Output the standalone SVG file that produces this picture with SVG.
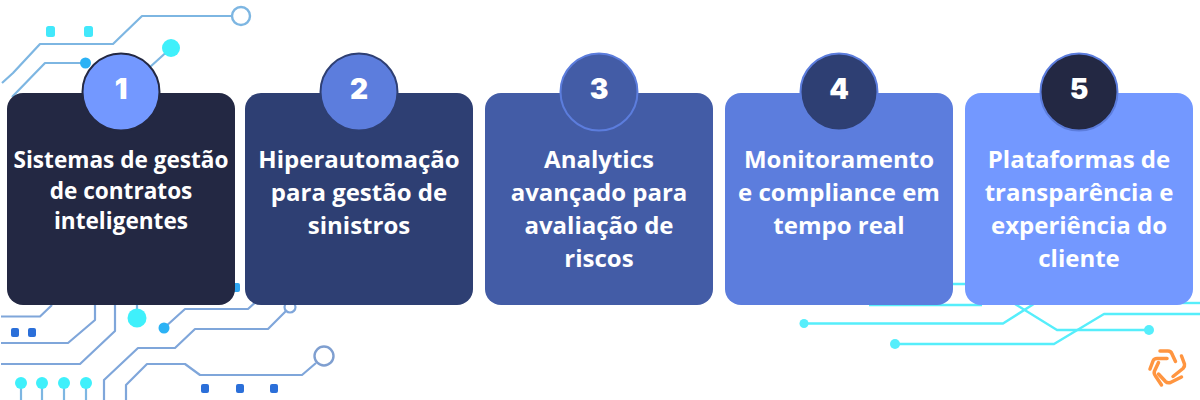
<svg xmlns="http://www.w3.org/2000/svg" width="1200" height="400" viewBox="0 0 1200 400">
<style>
.card{stroke:none}
.t{font-family:"Open Sans","Noto Sans",sans-serif;font-weight:700;font-size:24px;fill:#fff;text-anchor:middle}
.s{font-size:22.6px}
.n{font-family:Inter,"DejaVu Sans",sans-serif;font-weight:900;font-size:28px;fill:#fff;text-anchor:middle}
.tr{fill:none;stroke:#7db6e2;stroke-width:2.2;stroke-linejoin:round}
.trb{fill:none;stroke:#7fa6da;stroke-width:2.2;stroke-linejoin:round}
.cy{fill:none;stroke:#56eefb;stroke-width:2.4;stroke-linejoin:round}
.dc{fill:#3ff0fb}
.db{fill:#2bb2f5}
.sq{fill:#2b6fd9}
.lg{fill:none;stroke:#ff9540;stroke-width:3.5;stroke-linecap:round;stroke-linejoin:round}
</style>
<rect width="1200" height="400" fill="#fff"/>
<g id="connectors">
<path class="tr" d="M2 83 L13 73 L40 44 H113 L142 16 H232"/>
<circle cx="241" cy="16" r="9" fill="#fff" stroke="#7db6e2" stroke-width="2.4"/>
<path class="tr" d="M12 97 L45 63 H85"/>
<circle class="db" cx="85.5" cy="63" r="5.5"/>
<path class="tr" stroke="#5fd0f0" d="M150 67 L171 48"/>
<circle class="dc" cx="171" cy="48" r="9"/>
<rect x="46" y="26" width="9" height="11" rx="2.5" fill="#42e8fb"/>
<rect x="84" y="26" width="9" height="11" rx="2.5" fill="#42e8fb"/>
<path class="trb" d="M1 316.500 H40 L52 305"/>
<path class="trb" d="M1 343 H68 L95 320 V305"/>
<path class="trb" d="M1 364 H80 L115 331 V305"/>
<path class="tr" stroke="#4fd8f0" d="M137 305 V318"/>
<circle class="dc" cx="137" cy="318" r="9.500"/>
<path class="trb" d="M164 328 L185 309 H248 L258 300"/>
<circle class="db" cx="164" cy="328" r="5.500"/>
<path class="trb" d="M104 400 V380 L138 348 H175 L195 329 H268 L286 311"/>
<circle cx="290" cy="307" r="5.500" fill="#fff" stroke="#7fa6da" stroke-width="2.200"/>
<path class="trb" d="M126 400 V385 L147 364 H185 L200 375 H302 L316 363"/>
<circle cx="324" cy="356" r="9.500" fill="#fff" stroke="#7f9fd0" stroke-width="2.400"/>
<rect class="sq" x="11" y="328" width="8" height="9" rx="2"/>
<rect class="sq" x="28" y="328" width="8" height="9" rx="2"/>
<rect class="sq" x="201" y="384" width="8" height="9" rx="2"/>
<rect class="sq" x="236" y="384" width="8" height="9" rx="2"/>
<rect class="sq" x="270" y="384" width="8" height="9" rx="2"/>
<rect x="232" y="283" width="8" height="9" rx="2" fill="#2fa6f2"/>
<path class="tr" d="M21 383 V400 M42 383 V400 M64 383 V400 M86 383 V400"/>
<circle class="dc" cx="21" cy="383" r="6"/>
<circle class="dc" cx="42" cy="383" r="6"/>
<circle class="dc" cx="64" cy="383" r="6"/>
<circle class="dc" cx="86" cy="383" r="6"/>
<path class="cy" d="M804 323.500 H1003 L1040 300"/>
<circle cx="804" cy="323.500" r="4.500" fill="#56eefb"/>
<path class="cy" d="M895 344 H1054 L1104 314 H1200"/>
<circle cx="895" cy="344" r="5" fill="#56eefb"/>
<path class="cy" d="M1149 330 H1057 L1010 301"/>
<circle cx="1149" cy="330" r="5" fill="#56eefb"/>
<path class="cy" d="M940 284 H1000"/>
<path class="cy" d="M869 305 H982"/>
<path class="cy" d="M1170 303 H1200"/>
</g>
<g id="node1"><rect class="card" x="7" y="93" width="228" height="212" rx="16" fill="#232843"/><circle cx="121" cy="92" r="38.500" fill="#7398ff" stroke="#232843" stroke-width="2"/><text class="n" x="121" y="99">1</text>
<text class="t s"><tspan x="121" y="168">Sistemas de gestão</tspan><tspan x="121" y="199">de contratos</tspan><tspan x="121" y="229">inteligentes</tspan></text></g>
<g id="node2"><rect class="card" x="245" y="93" width="228" height="212" rx="16" fill="#2e3f73"/><circle cx="359" cy="92" r="38.500" fill="#5c7ddd" stroke="#2e3f73" stroke-width="2"/><text class="n" x="359" y="99">2</text>
<text class="t"><tspan x="359" y="168">Hiperautomação</tspan><tspan x="359" y="201">para gestão de</tspan><tspan x="359" y="234">sinistros</tspan></text></g>
<g id="node3"><rect class="card" x="485" y="93" width="228" height="212" rx="16" fill="#435ca6"/><circle cx="599" cy="92" r="38.500" fill="#435ca6" stroke="#5c7ddd" stroke-width="2"/><text class="n" x="599" y="99">3</text>
<text class="t"><tspan x="599" y="168">Analytics</tspan><tspan x="599" y="201">avançado para</tspan><tspan x="599" y="234">avaliação de</tspan><tspan x="599" y="267">riscos</tspan></text></g>
<g id="node4"><rect class="card" x="725" y="93" width="228" height="212" rx="16" fill="#5c7ddd"/><circle cx="839" cy="92" r="38.500" fill="#2e3f73" stroke="#5c7ddd" stroke-width="2"/><text class="n" x="839" y="99">4</text>
<text class="t"><tspan x="839" y="168">Monitoramento</tspan><tspan x="839" y="201">e compliance em</tspan><tspan x="839" y="234">tempo real</tspan></text></g>
<g id="node5"><rect class="card" x="965" y="93" width="228" height="212" rx="16" fill="#7398ff"/><circle cx="1079" cy="92" r="38.500" fill="#232843" stroke="#5c7ddd" stroke-width="2"/><text class="n" x="1079" y="99">5</text>
<text class="t"><tspan x="1079" y="168">Plataformas de</tspan><tspan x="1079" y="201">transparência e</tspan><tspan x="1079" y="234">experiência do</tspan><tspan x="1079" y="267">cliente</tspan></text></g>
<g id="logo">
<path class="lg" d="M1160 351 H1168 Q1171 351 1172 354 L1175.500 361.500"/>
<path class="lg" d="M1181.500 356 L1184.500 364 Q1185 366.500 1183 368.500 L1173 376.500"/>
<path class="lg" d="M1181.500 377 L1170.500 382.500 Q1167.500 383.500 1165.500 381.500 L1158.500 374"/>
<path class="lg" d="M1161.500 385 L1155.500 376 Q1153.500 373.500 1154.500 371 L1158.500 362.500"/>
<path class="lg" d="M1150 369 L1153 361 Q1154 358.500 1157 358.500 H1167"/>
</g>
</svg>
